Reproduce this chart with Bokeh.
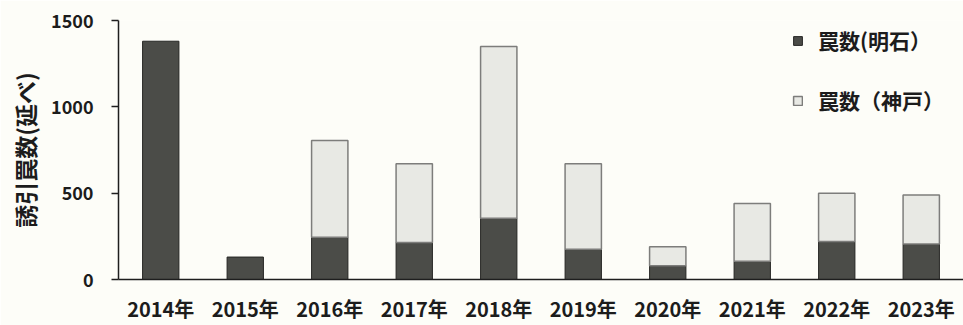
from bokeh.plotting import figure
from bokeh.models import ColumnDataSource, Legend, LegendItem, FixedTicker
from bokeh.embed import file_html
from bokeh.resources import INLINE

# Annual number of lure traps (cumulative), Akashi and Kobe
years = ["2014年", "2015年", "2016年", "2017年", "2018年",
         "2019年", "2020年", "2021年", "2022年", "2023年"]
akashi = [1380, 130, 245, 215, 355, 175, 80, 105, 220, 205]
kobe = [0, 0, 560, 455, 995, 495, 110, 335, 280, 285]

label_akashi = "罠数(明石）"
label_kobe = "罠数（神戸）"
y_title = "誘引罠数(延べ)"
y_ticks = [0, 500, 1000, 1500]

FONT = "Noto Sans CJK JP"
BG = "#fdfdf8"
DARK = "#4b4c48"
LIGHT = "#e8e9e4"
INK = "#1c1c1c"

src_a = ColumnDataSource(dict(x=years, top=akashi))
kx = [y for y, k in zip(years, kobe) if k > 0]
kb = [a for a, k in zip(akashi, kobe) if k > 0]
kt = [a + k for a, k in zip(akashi, kobe) if k > 0]
src_k = ColumnDataSource(dict(x=kx, bottom=kb, top=kt))

p = figure(x_range=years, y_range=(0, 1500), width=963, height=325,
           output_backend="svg", toolbar_location=None,
           min_border_left=118, min_border_right=0,
           min_border_top=20, min_border_bottom=45)
p.x_range.range_padding = 0
p.background_fill_color = BG
p.border_fill_color = BG
p.outline_line_color = None
p.grid.grid_line_color = None

r_a = p.vbar(x="x", top="top", width=0.43, source=src_a,
             fill_color=DARK, line_color="#262624", line_width=1)
r_k = p.vbar(x="x", bottom="bottom", top="top", width=0.43, source=src_k,
             fill_color=LIGHT, line_color="#7d7d7b", line_width=1.5)

# y axis
ya = p.yaxis[0]
ya.ticker = FixedTicker(ticks=y_ticks)
ya.axis_label = y_title
ya.axis_label_text_font = FONT
ya.axis_label_text_font_style = "bold"
ya.axis_label_text_font_size = "23px"
ya.axis_label_text_color = INK
ya.axis_label_standoff = 6
ya.major_label_text_font = FONT
ya.major_label_text_font_style = "bold"
ya.major_label_text_font_size = "18px"
ya.major_label_text_color = INK
ya.major_label_standoff = 18
ya.major_tick_out = 7
ya.major_tick_in = 0
ya.minor_tick_line_color = None
ya.axis_line_color = "#1e1e1e"
ya.axis_line_width = 1.5
ya.major_tick_line_color = "#1e1e1e"
ya.major_tick_line_width = 1.5

# x axis
xa = p.xaxis[0]
xa.major_label_text_font = FONT
xa.major_label_text_font_style = "bold"
xa.major_label_text_font_size = "20px"
xa.major_label_text_color = INK
xa.major_label_standoff = 8
xa.major_tick_line_color = None
xa.axis_line_color = "#1e1e1e"
xa.axis_line_width = 1.5

legend = Legend(items=[LegendItem(label=label_akashi, renderers=[r_a]),
                       LegendItem(label=label_kobe, renderers=[r_k])],
                location=(674, 164))
legend.label_text_font = FONT
legend.label_text_font_style = "bold"
legend.label_text_font_size = "21px"
legend.label_text_color = INK
legend.glyph_width = 11
legend.glyph_height = 11
legend.label_height = 20
legend.spacing = 30
legend.label_standoff = 15
legend.border_line_color = None
legend.background_fill_alpha = 0
p.add_layout(legend)

open("out.html", "w").write(file_html(p, INLINE))
